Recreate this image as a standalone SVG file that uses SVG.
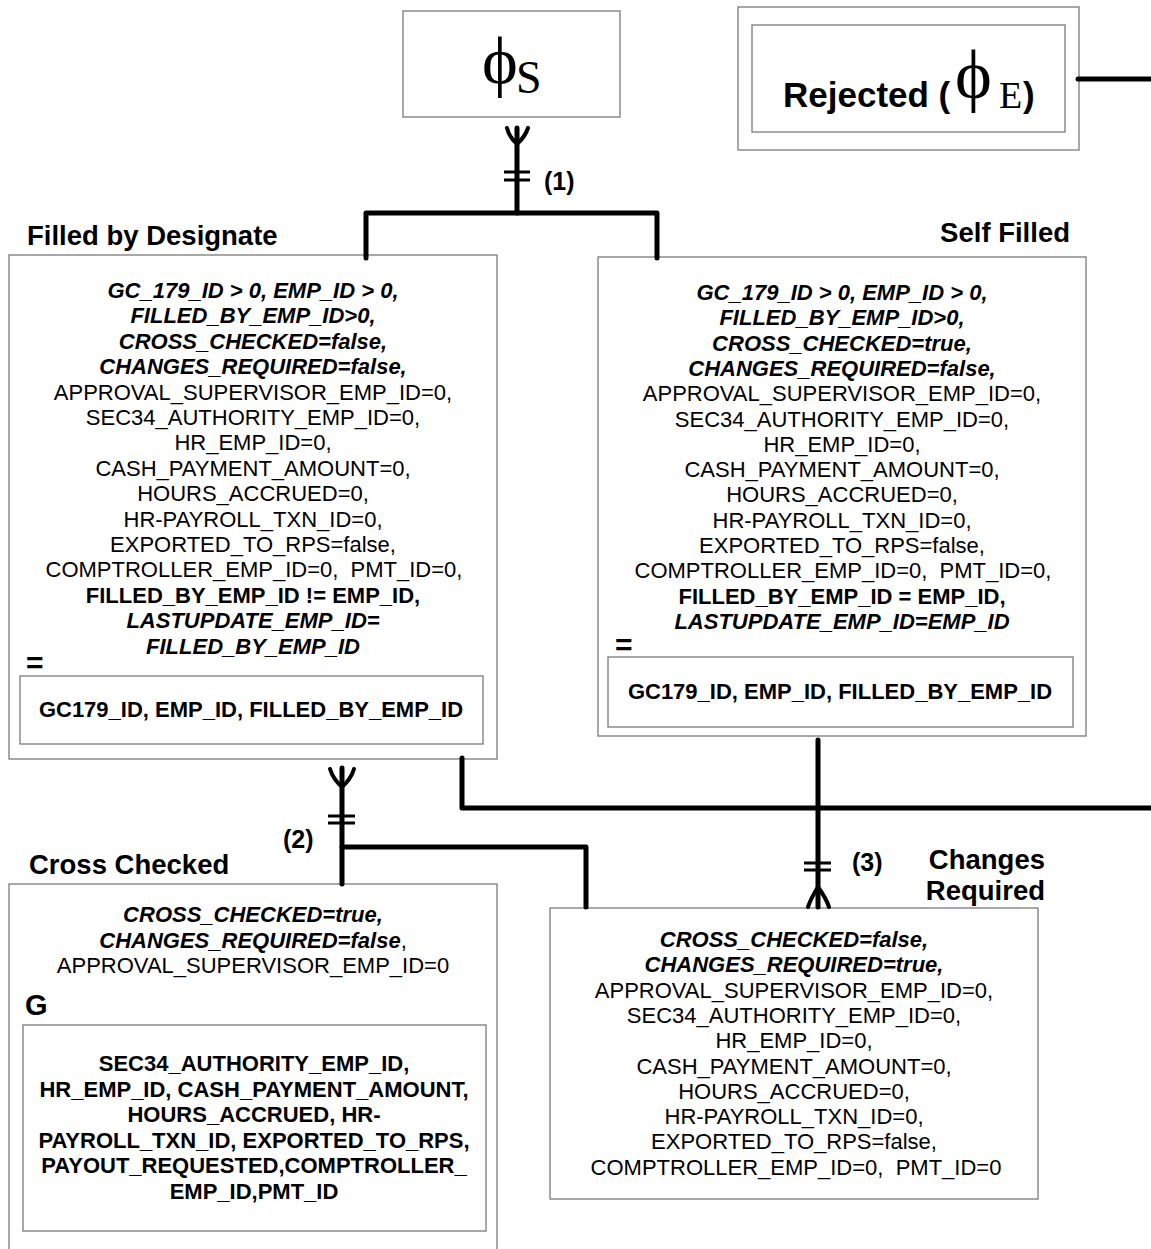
<svg xmlns="http://www.w3.org/2000/svg" width="1151" height="1249" viewBox="0 0 1151 1249">
  <style>
    .box { fill: #fff; stroke: #7a7a7a; stroke-width: 1.3; }
    .t { font-family: "Liberation Sans", Arial, sans-serif; font-size: 22px; text-anchor: middle; fill: #000; }
    .bi { font-weight: bold; font-style: italic; }
    .b { font-weight: bold; }
    .title { font-family: "Liberation Sans", Arial, sans-serif; font-size: 27.5px; font-weight: bold; fill: #000; }
    .lbl { font-family: "Liberation Sans", Arial, sans-serif; font-size: 25px; font-weight: bold; fill: #000; }
    .serif { font-family: "Liberation Serif", "DejaVu Serif", "Times New Roman", serif; fill: #000; }
    .conn { fill: none; stroke: #000; stroke-width: 5; stroke-linecap: round; stroke-linejoin: round; }
    .foot { fill: none; stroke: #000; stroke-width: 4; stroke-linecap: round; }
    .bar { stroke: #000; stroke-width: 3; }
  </style>

  <!-- start state -->
  <g id="start">
    <rect class="box" x="403" y="11" width="217" height="106"/>
    <text class="serif" x="482" y="84" style="font-size:68px">ϕ</text>
    <text class="serif" x="516" y="93" style="font-size:46px">S</text>
  </g>

  <!-- end state: rejected -->
  <g id="rejected">
    <rect class="box" x="738" y="7" width="341" height="143"/>
    <rect class="box" x="752" y="25" width="313" height="107"/>
    <text class="title" x="783" y="107" style="font-size:35px">Rejected (</text>
    <text class="serif" x="955" y="98" style="font-size:70px">ϕ</text>
    <text class="serif" x="999" y="108" style="font-size:38px">E</text>
    <text class="title" x="1023" y="107" style="font-size:35px">)</text>
  </g>

  <!-- Filled by Designate -->
  <g id="filled-by-designate">
    <text class="title" x="27" y="245">Filled by Designate</text>
    <rect class="box" x="9" y="255" width="488" height="504"/>
    <g class="t">
      <text x="253" y="298" class="bi">GC_179_ID &gt; 0, EMP_ID &gt; 0,</text>
      <text x="253" y="323.4" class="bi">FILLED_BY_EMP_ID&gt;0,</text>
      <text x="253" y="348.8" class="bi">CROSS_CHECKED=false,</text>
      <text x="253" y="374.2" class="bi">CHANGES_REQUIRED=false,</text>
      <text x="253" y="399.6">APPROVAL_SUPERVISOR_EMP_ID=0,</text>
      <text x="253" y="425">SEC34_AUTHORITY_EMP_ID=0,</text>
      <text x="253" y="450.4">HR_EMP_ID=0,</text>
      <text x="253" y="475.8">CASH_PAYMENT_AMOUNT=0,</text>
      <text x="253" y="501.2">HOURS_ACCRUED=0,</text>
      <text x="253" y="526.6">HR-PAYROLL_TXN_ID=0,</text>
      <text x="253" y="552">EXPORTED_TO_RPS=false,</text>
      <text x="254" y="577.4">COMPTROLLER_EMP_ID=0, &#160;PMT_ID=0,</text>
      <text x="253" y="602.8" class="b">FILLED_BY_EMP_ID != EMP_ID,</text>
      <text x="253" y="628.2" class="bi">LASTUPDATE_EMP_ID=</text>
      <text x="253" y="653.6" class="bi">FILLED_BY_EMP_ID</text>
    </g>
    <text class="title" x="26" y="673" style="font-size:30px">=</text>
    <rect class="box" x="20" y="676" width="463" height="68"/>
    <text class="t b" x="251" y="717">GC179_ID, EMP_ID, FILLED_BY_EMP_ID</text>
  </g>

  <!-- Self Filled -->
  <g id="self-filled">
    <text class="title" x="1070" y="242" text-anchor="end">Self Filled</text>
    <rect class="box" x="598" y="257" width="488" height="479"/>
    <g class="t">
      <text x="842" y="300" class="bi">GC_179_ID &gt; 0, EMP_ID &gt; 0,</text>
      <text x="842" y="325.3" class="bi">FILLED_BY_EMP_ID&gt;0,</text>
      <text x="842" y="350.6" class="bi">CROSS_CHECKED=true,</text>
      <text x="842" y="375.9" class="bi">CHANGES_REQUIRED=false,</text>
      <text x="842" y="401.2">APPROVAL_SUPERVISOR_EMP_ID=0,</text>
      <text x="842" y="426.5">SEC34_AUTHORITY_EMP_ID=0,</text>
      <text x="842" y="451.8">HR_EMP_ID=0,</text>
      <text x="842" y="477.1">CASH_PAYMENT_AMOUNT=0,</text>
      <text x="842" y="502.4">HOURS_ACCRUED=0,</text>
      <text x="842" y="527.7">HR-PAYROLL_TXN_ID=0,</text>
      <text x="842" y="553">EXPORTED_TO_RPS=false,</text>
      <text x="843" y="578.3">COMPTROLLER_EMP_ID=0, &#160;PMT_ID=0,</text>
      <text x="842" y="603.6" class="b">FILLED_BY_EMP_ID = EMP_ID,</text>
      <text x="842" y="628.9" class="bi">LASTUPDATE_EMP_ID=EMP_ID</text>
    </g>
    <text class="title" x="615" y="655" style="font-size:30px">=</text>
    <rect class="box" x="608" y="657" width="465" height="70"/>
    <text class="t b" x="840" y="699">GC179_ID, EMP_ID, FILLED_BY_EMP_ID</text>
  </g>

  <!-- Cross Checked -->
  <g id="cross-checked">
    <text class="title" x="29" y="874">Cross Checked</text>
    <rect class="box" x="9" y="884" width="488" height="380"/>
    <text class="t bi" x="253" y="922">CROSS_CHECKED=true,</text>
    <text class="t" x="253" y="947.5"><tspan class="bi">CHANGES_REQUIRED=false</tspan>,</text>
    <text class="t" x="253" y="973">APPROVAL_SUPERVISOR_EMP_ID=0</text>
    <text class="title" x="25" y="1015" style="font-size:29px">G</text>
    <rect class="box" x="23" y="1025" width="463" height="206"/>
    <g class="t b">
      <text x="254" y="1071">SEC34_AUTHORITY_EMP_ID,</text>
      <text x="254" y="1096.6">HR_EMP_ID, CASH_PAYMENT_AMOUNT,</text>
      <text x="254" y="1122.2">HOURS_ACCRUED, HR-</text>
      <text x="254" y="1147.8">PAYROLL_TXN_ID, EXPORTED_TO_RPS,</text>
      <text x="254" y="1173.4">PAYOUT_REQUESTED,COMPTROLLER_</text>
      <text x="254" y="1199">EMP_ID,PMT_ID</text>
    </g>
  </g>

  <!-- Changes Required -->
  <g id="changes-required">
    <text class="title" x="1045" y="869" text-anchor="end">Changes</text>
    <text class="title" x="1045" y="900" text-anchor="end">Required</text>
    <rect class="box" x="550" y="908" width="488" height="291"/>
    <g class="t">
      <text x="794" y="947" class="bi">CROSS_CHECKED=false,</text>
      <text x="794" y="972.3" class="bi">CHANGES_REQUIRED=true,</text>
      <text x="794" y="997.6">APPROVAL_SUPERVISOR_EMP_ID=0,</text>
      <text x="794" y="1022.9">SEC34_AUTHORITY_EMP_ID=0,</text>
      <text x="794" y="1048.2">HR_EMP_ID=0,</text>
      <text x="794" y="1073.5">CASH_PAYMENT_AMOUNT=0,</text>
      <text x="794" y="1098.8">HOURS_ACCRUED=0,</text>
      <text x="794" y="1124.1">HR-PAYROLL_TXN_ID=0,</text>
      <text x="794" y="1149.4">EXPORTED_TO_RPS=false,</text>
      <text x="796" y="1174.7">COMPTROLLER_EMP_ID=0, &#160;PMT_ID=0</text>
    </g>
  </g>

  <!-- relationships -->
  <g id="connectors">
    <!-- (1) start to the two filled states -->
    <path class="conn" d="M517,128 V213"/>
    <path class="conn" d="M366,258 V213 H657 V258"/>
    <path class="foot" d="M517,144 Q509,137 507,128 M517,144 Q525,137 528,128"/>
    <path class="bar" d="M504,172 H530 M504,180 H530"/>
    <text class="lbl" x="544" y="190">(1)</text>

    <!-- (2) designate to cross checked / changes required -->
    <path class="conn" d="M342,768 V884"/>
    <path class="conn" d="M342,847 H586 V907"/>
    <path class="foot" d="M342,787 Q333,779 330,769 M342,787 Q351,779 354,769"/>
    <path class="bar" d="M328,816 H355 M328,823 H355"/>
    <text class="lbl" x="283" y="848">(2)</text>

    <!-- (3) self filled to changes required -->
    <path class="conn" d="M818,740 V907"/>
    <path class="foot" d="M818,887 Q811,898 808,907 M818,887 Q826,898 829,907"/>
    <path class="bar" d="M804,863 H831 M804,870 H831"/>
    <text class="lbl" x="852" y="871">(3)</text>

    <!-- to rejected -->
    <path class="conn" d="M462,758 V808 H1153"/>
    <path class="conn" d="M1078,79 H1153"/>
  </g>
</svg>
